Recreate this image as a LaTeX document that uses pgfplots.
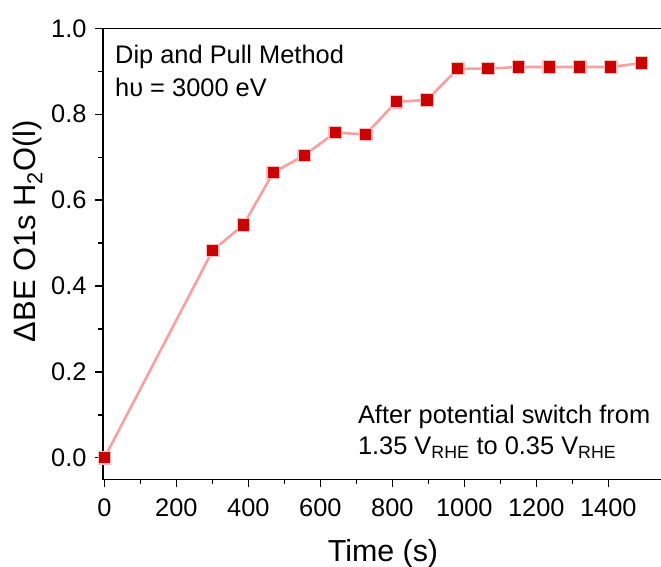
\documentclass[border=0pt]{standalone}
\usepackage{pgfplots}
\pgfplotsset{compat=1.18}
\usepackage{fontspec}
\setmainfont{Liberation Sans}
\definecolor{linepink}{RGB}{248,160,160}
\definecolor{markred}{RGB}{204,0,0}
\definecolor{markedge}{RGB}{250,190,190}
\begin{document}
\begin{tikzpicture}
\path[use as bounding box] (0,0) rectangle (661bp,567bp);
\begin{axis}[
  at={(103bp,87.7bp)}, anchor=south west,
  scale only axis,
  width=560bp, height=451bp,
  xmin=-4, xmax=1552,
  ymin=-0.05, ymax=1.0,
  xtick={0,200,...,1400},
  ytick={0,0.2,...,1.0},
  minor x tick num=1,
  minor y tick num=1,
  xtick pos=bottom, ytick pos=left,
  tick align=outside,
  major tick length=8bp,
  minor tick length=5bp,
  every tick/.style={black, line width=1.3bp},
  axis line style={line width=1.5bp},
  clip=false,
  /pgf/number format/assume math mode=true,
  ticklabel style={font=\fontsize{25.5}{30}\selectfont},
  yticklabel style={xshift=-5bp, /pgf/number format/.cd, fixed, fixed zerofill, precision=1},
  xticklabel style={yshift=-8bp, /pgf/number format/1000 sep={}},
  xlabel={Time (s)},
  ylabel={ΔBE O1s H\textsubscript{2}O(l)},
  xlabel style={font=\fontsize{30.5}{35}\selectfont, at={(axis description cs:0.5,0)}, anchor=base, yshift=-82bp},
  ylabel style={font=\fontsize{31}{36}\selectfont, at={(axis description cs:-0.134,0.55)}, anchor=center, rotate=0},
]
\addplot[color=linepink, line width=2.6bp,
  mark=square*, mark size=6.2bp,
  mark options={solid, fill=markred, draw=markedge, line width=1.2bp}]
  coordinates {
  (0,0) (301,0.483) (386,0.542) (469,0.664) (555,0.704) (641,0.757)
  (726,0.753) (811,0.829) (896,0.833) (982,0.906) (1066,0.906)
  (1151,0.910) (1236,0.910) (1321,0.910) (1407,0.910) (1492,0.919)
  };
\node[anchor=base west, inner sep=0pt, font=\fontsize{25.5}{30}\selectfont] at (axis description cs:0.0214,0.923) {Dip and Pull Method};
\node[anchor=base west, inner sep=0pt, font=\fontsize{25.5}{30}\selectfont] at (axis description cs:0.0214,0.848) {hυ = 3000 eV};
\node[anchor=base west, inner sep=0pt, font=\fontsize{25.5}{30}\selectfont] at (axis description cs:0.455,0.1248) {After potential switch from};
\node[anchor=base west, inner sep=0pt, font=\fontsize{25.5}{30}\selectfont] at (axis description cs:0.455,0.054) {1.35 V\textsubscript{RHE} to 0.35 V\textsubscript{RHE}};
\end{axis}
\end{tikzpicture}
\end{document}
